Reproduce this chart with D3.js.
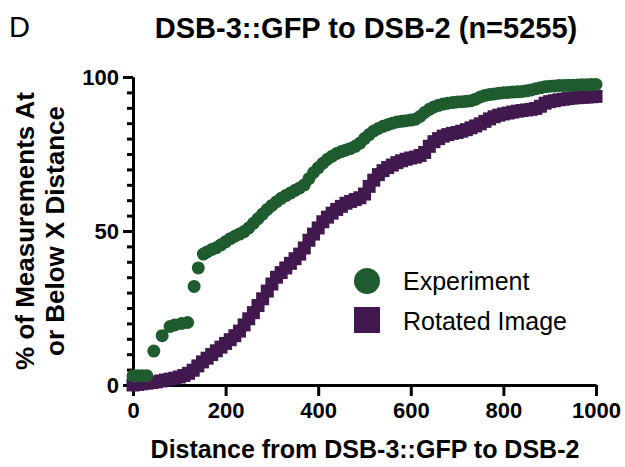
<!DOCTYPE html>
<html lang="en">
<head>
<meta charset="UTF-8">
<title>DSB-3::GFP to DSB-2</title>
<script src="https://d3js.org/d3.v7.min.js"></script>
<style>
  body { margin: 0; background: #fff; }
  svg { display: block; font-family: "Liberation Sans", Arial, sans-serif; }
</style>
</head>
<body>
<svg id="chart"></svg>
<script>
const width = 625, height = 467;

// cumulative % of measurements at or below a distance
const expDist = [0, 10, 20, 30, 45, 63, 80, 90, 105, 118, 132, 141, 152, 160, 170, 180, 190, 200, 210, 220, 230, 240, 250, 260, 270, 280, 290, 300, 310, 320, 330, 340, 350, 360, 370, 380, 390, 400, 410, 420, 430, 440, 450, 460, 470, 480, 490, 500, 510, 520, 530, 540, 550, 560, 570, 580, 590, 600, 610, 620, 630, 640, 650, 660, 670, 680, 690, 700, 710, 720, 730, 740, 750, 760, 770, 780, 790, 800, 810, 820, 830, 840, 850, 860, 870, 880, 890, 900, 910, 920, 930, 940, 950, 960, 970, 980, 990, 1000];
const expPct = [3, 3, 3, 3, 11, 16, 19, 19.5, 20, 20.3, 32, 38, 42.5, 43.2, 44, 44.6, 45.5, 46.5, 47.5, 48.3, 49, 49.8, 51, 52.5, 54, 55.5, 57, 58.3, 59.5, 60.6, 61.5, 62.3, 63.2, 64, 65, 67, 69, 70.5, 72, 73.3, 74.3, 75.2, 75.8, 76.3, 76.8, 77.5, 78.5, 80, 81.3, 82.5, 83.3, 84, 84.5, 85, 85.4, 85.6, 85.8, 86, 86.3, 87.2, 88.5, 89.5, 90.3, 90.8, 91.2, 91.5, 91.7, 91.9, 92, 92.1, 92.3, 92.8, 93.5, 94, 94.3, 94.5, 94.7, 94.9, 95, 95.1, 95.2, 95.3, 95.5, 95.8, 96.2, 96.5, 96.8, 97, 97.1, 97.2, 97.25, 97.3, 97.35, 97.4, 97.45, 97.5, 97.55, 97.6];

const rotDist = d3.range(0, 1001, 10);
const rotPct = [0, 0.2, 0.4, 0.6, 0.8, 1.0, 1.3, 1.6, 1.9, 2.2, 2.6, 3.1, 3.8, 4.8, 6.2, 7.5, 8.7, 9.9, 11.1, 12.3, 13.5, 14.7, 16, 17.5, 19.5, 21.5, 23.5, 25.8, 28, 30.5, 32.8, 35, 36.5, 38, 39.5, 41, 42.5, 44.5, 47, 49, 51, 53, 54.5, 55.8, 57, 58, 59, 59.6, 60.2, 60.8, 62, 64.5, 66.5, 68.3, 69.6, 70.6, 71.4, 72.2, 72.8, 73.3, 73.7, 74, 74.5, 75.5, 77.5, 79, 80, 80.8, 81.3, 81.7, 82, 82.4, 82.9, 83.5, 84.1, 84.8, 85.6, 86.4, 87.1, 87.6, 88, 88.3, 88.6, 88.9, 89.1, 89.3, 89.5, 89.8, 90.5, 91.5, 92, 92.3, 92.6, 92.8, 93, 93.2, 93.3, 93.4, 93.5, 93.6, 93.7];

const xTicks = [0, 200, 400, 600, 800, 1000];
const yTicks = [0, 50, 100];
const yMinor = d3.range(0, 101, 5);

const green = "#1e5b2e", purple = "#41194f";

const svg = d3.select("#chart").attr("width", width).attr("height", height);

const x = d3.scaleLinear().domain([0, 1000]).range([133, 596]);
const y = d3.scaleLinear().domain([0, 100]).range([385, 77]);

// axes
svg.append("g")
  .attr("transform", `translate(0,${y(0)})`)
  .call(d3.axisBottom(x).tickValues(xTicks).tickFormat(d3.format("d"))
    .tickSize(11).tickSizeOuter(0).tickPadding(6));

svg.append("g")
  .attr("transform", `translate(${x(0)},0)`)
  .call(d3.axisLeft(y).tickValues(yMinor).tickSize(6).tickSizeOuter(0).tickFormat(""));

svg.append("g")
  .attr("transform", `translate(${x(0)},0)`)
  .call(d3.axisLeft(y).tickValues(yTicks).tickSize(10).tickSizeOuter(0).tickPadding(4));

svg.selectAll(".domain, .tick line")
  .attr("stroke", "#000").attr("stroke-width", 3);
svg.selectAll(".tick text")
  .attr("fill", "#000")
  .style("font-size", "22px").style("font-weight", "bold");

// rotated image squares, then experiment circles on top
const sq = 13;
svg.append("g").selectAll("rect")
  .data(rotDist.map((d, i) => [d, rotPct[i]]))
  .join("rect")
  .attr("x", d => x(d[0]) - sq / 2)
  .attr("y", d => y(d[1]) - sq / 2)
  .attr("width", sq).attr("height", sq)
  .attr("fill", purple);

svg.append("g").selectAll("circle")
  .data(expDist.map((d, i) => [d, expPct[i]]))
  .join("circle")
  .attr("cx", d => x(d[0]))
  .attr("cy", d => y(d[1]))
  .attr("r", 6.5)
  .attr("fill", green);

// legend
const legend = svg.append("g");
legend.append("circle").attr("cx", 367).attr("cy", 281).attr("r", 13).attr("fill", green);
legend.append("rect").attr("x", 354).attr("y", 307).attr("width", 26).attr("height", 26).attr("fill", purple);
legend.append("text").attr("x", 403).attr("y", 290).text("Experiment")
  .style("font-size", "25px");
legend.append("text").attr("x", 403).attr("y", 330).text("Rotated Image")
  .style("font-size", "25px");

// titles
svg.append("text").attr("x", 9).attr("y", 37).text("D")
  .style("font-size", "29px");

svg.append("text").attr("x", 366).attr("y", 38).attr("text-anchor", "middle")
  .text("DSB-3::GFP to DSB-2 (n=5255)")
  .style("font-size", "29px").style("font-weight", "bold");

svg.append("text").attr("x", 365).attr("y", 458).attr("text-anchor", "middle")
  .text("Distance from DSB-3::GFP to DSB-2")
  .style("font-size", "25px").style("font-weight", "bold");

const yTitle = svg.append("text")
  .attr("transform", `translate(0,${(y(0) + y(100)) / 2}) rotate(-90)`)
  .attr("text-anchor", "middle")
  .style("font-size", "26px").style("font-weight", "bold");
yTitle.append("tspan").attr("x", 0).attr("y", 34).text("% of Measurements At");
yTitle.append("tspan").attr("x", 0).attr("y", 64).text("or Below X Distance");
</script>
</body>
</html>
